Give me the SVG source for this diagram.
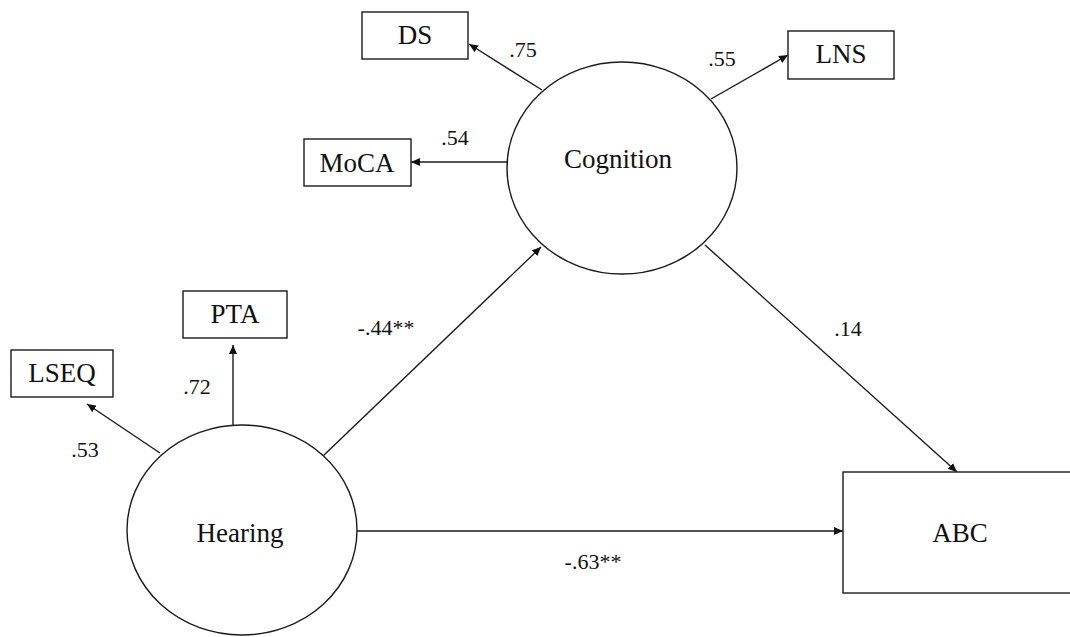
<svg xmlns="http://www.w3.org/2000/svg" width="1070" height="637" viewBox="0 0 1070 637">
  <defs>
    <marker id="arrow" markerUnits="userSpaceOnUse" markerWidth="10" markerHeight="8" refX="9" refY="4" orient="auto">
      <path d="M0,0 L9,4 L0,8 Z" fill="#111"/>
    </marker>
    <style>
      .shape { fill: #fff; stroke: #1a1a1a; stroke-width: 1.4; }
      .edge { fill: none; stroke: #1a1a1a; stroke-width: 1.4; marker-end: url(#arrow); }
      .label { font-family: "Liberation Serif", "Times New Roman", serif; font-size: 27px; fill: #111; text-anchor: middle; }
      .coef { font-family: "Liberation Serif", "Times New Roman", serif; font-size: 22px; fill: #111; text-anchor: middle; }
    </style>
  </defs>
  <rect width="1070" height="637" fill="#fff"/>

  <!-- paths and loadings -->
  <g id="connectors">
    <line class="edge" x1="542" y1="90" x2="469" y2="44"/>
    <line class="edge" x1="507" y1="162" x2="411" y2="162"/>
    <line class="edge" x1="711" y1="99" x2="788" y2="55"/>
    <line class="edge" x1="233" y1="426" x2="233" y2="345"/>
    <line class="edge" x1="160" y1="453" x2="87" y2="404"/>
    <line class="edge" x1="323" y1="456" x2="541" y2="247"/>
    <line class="edge" x1="357" y1="531" x2="843" y2="531"/>
    <line class="edge" x1="705" y1="245" x2="957" y2="472"/>
    <text class="coef" x="523" y="57">.75</text>
    <text class="coef" x="455" y="145">.54</text>
    <text class="coef" x="722" y="66">.55</text>
    <text class="coef" x="197" y="394">.72</text>
    <text class="coef" x="85" y="457">.53</text>
    <text class="coef" x="386" y="335">-.44**</text>
    <text class="coef" x="848" y="336">.14</text>
    <text class="coef" x="593" y="569">-.63**</text>
  </g>

  <g id="cognition">
    <ellipse class="shape" cx="622" cy="168" rx="115" ry="106"/>
    <text class="label" x="618" y="168">Cognition</text>
  </g>
  <g id="hearing">
    <ellipse class="shape" cx="242" cy="530" rx="115" ry="105"/>
    <text class="label" x="240" y="542">Hearing</text>
  </g>
  <g id="ds">
    <rect class="shape" x="362" y="12" width="106" height="47"/>
    <text class="label" x="415" y="44">DS</text>
  </g>
  <g id="moca">
    <rect class="shape" x="304" y="139" width="107" height="47"/>
    <text class="label" x="357" y="172">MoCA</text>
  </g>
  <g id="lns">
    <rect class="shape" x="788" y="31" width="106" height="48"/>
    <text class="label" x="841" y="63">LNS</text>
  </g>
  <g id="pta">
    <rect class="shape" x="183" y="291" width="104" height="47"/>
    <text class="label" x="235" y="323">PTA</text>
  </g>
  <g id="lseq">
    <rect class="shape" x="11" y="350" width="102" height="47"/>
    <text class="label" x="62" y="382">LSEQ</text>
  </g>
  <g id="abc">
    <rect class="shape" x="843" y="472" width="240" height="121"/>
    <text class="label" x="960" y="542">ABC</text>
  </g>
</svg>
